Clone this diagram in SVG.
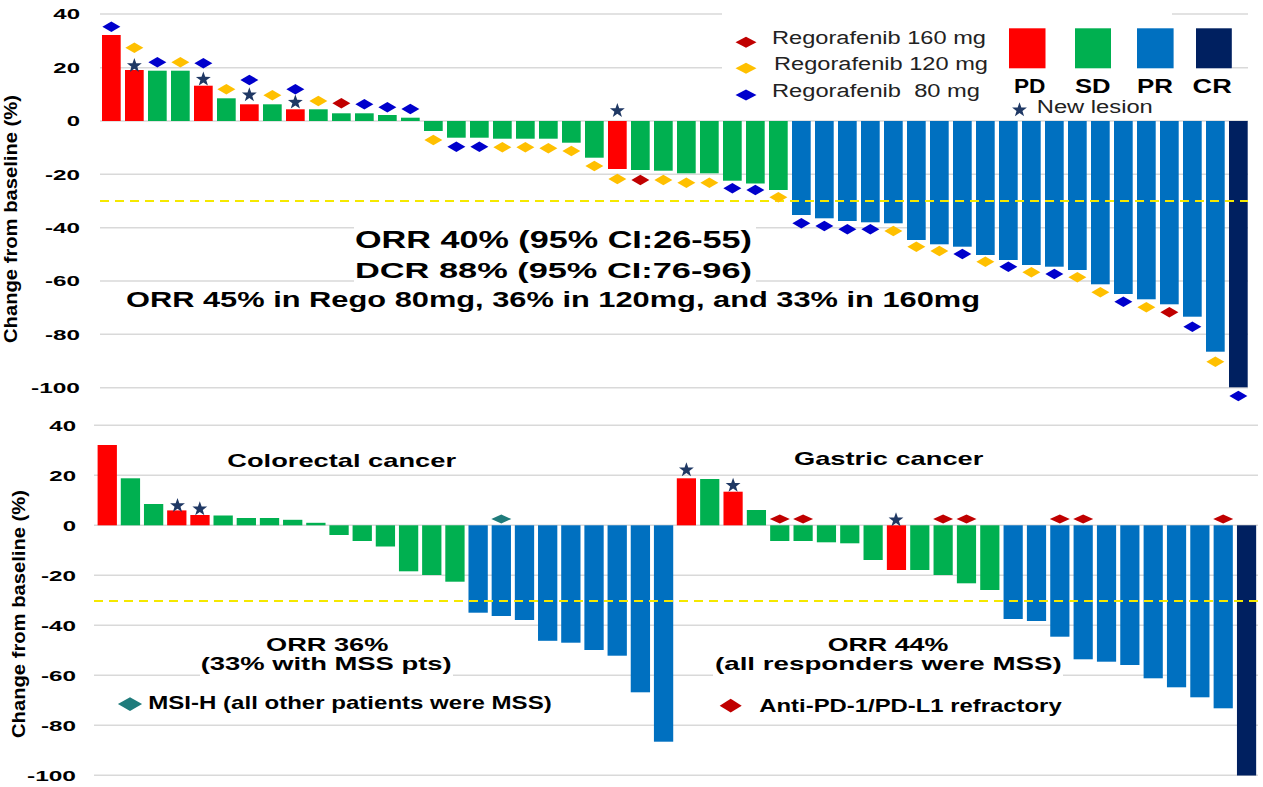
<svg xmlns="http://www.w3.org/2000/svg" xmlns:xlink="http://www.w3.org/1999/xlink" width="1263" height="787" viewBox="0 0 1263 787">
<style>
.gl{stroke:#D9D9D9;stroke-width:1.5;fill:none}
.dash{stroke:#F5E800;stroke-width:2.2;stroke-dasharray:9 6;fill:none}
.pd{fill:#FF0000}.sd{fill:#00B050}.pr{fill:#0070C0}.cr{fill:#002060}
.d160{fill:#C00000}.d120{fill:#FFC000}.d80{fill:#0000CC}.msi{fill:#1F7B7B}
.star{fill:#1F3864}
text{font-family:"Liberation Sans",Arial,sans-serif;fill:#000}
.b{font-weight:bold}
.ax{font-size:15px;font-weight:bold}
.lg{font-size:18px;fill:#222}
</style>
<defs>
<path id="dm" d="M-9,0 L0,-5.3 L9,0 L0,5.3Z"/>
<path id="ds" d="M-10,0 L0,-4.5 L10,0 L0,4.5Z"/>
<path id="dl" d="M-10.5,0 L0,-5.5 L10.5,0 L0,5.5Z"/>
<path id="st" d="M0,-7.8 L1.85,-2.55 L7.42,-2.41 L2.97,0.97 L4.58,6.31 L0,3.12 L-4.58,6.31 L-2.97,0.97 L-7.42,-2.41 L-1.85,-2.55Z"/>
</defs>
<rect width="1263" height="787" fill="#fff"/>

<g id="top-grid">
<line class="gl" x1="100" y1="14" x2="1248" y2="14"/>
<line class="gl" x1="100" y1="67.7" x2="1248" y2="67.7"/>
<line class="gl" x1="100" y1="121" x2="1248" y2="121"/>
<line class="gl" x1="100" y1="174.3" x2="1248" y2="174.3"/>
<line class="gl" x1="100" y1="227.7" x2="1248" y2="227.7"/>
<line class="gl" x1="100" y1="281" x2="1248" y2="281"/>
<line class="gl" x1="100" y1="334.3" x2="1248" y2="334.3"/>
<line class="gl" x1="100" y1="387.7" x2="1248" y2="387.7"/>
</g>
<g id="top-axis">
<text class="ax" x="53.3" y="19.3" textLength="26.7" lengthAdjust="spacingAndGlyphs">40</text>
<text class="ax" x="53.3" y="73" textLength="26.7" lengthAdjust="spacingAndGlyphs">20</text>
<text class="ax" x="66.7" y="126.3" textLength="13.3" lengthAdjust="spacingAndGlyphs">0</text>
<text class="ax" x="45" y="179.6" textLength="35" lengthAdjust="spacingAndGlyphs">-20</text>
<text class="ax" x="45" y="233" textLength="35" lengthAdjust="spacingAndGlyphs">-40</text>
<text class="ax" x="45" y="286.3" textLength="35" lengthAdjust="spacingAndGlyphs">-60</text>
<text class="ax" x="45" y="339.6" textLength="35" lengthAdjust="spacingAndGlyphs">-80</text>
<text class="ax" x="31" y="393" textLength="49" lengthAdjust="spacingAndGlyphs">-100</text>
<text class="b" font-size="18" transform="translate(17,219) rotate(-90)" text-anchor="middle" textLength="248" lengthAdjust="spacingAndGlyphs">Change from baseline (%)</text>
</g>

<g id="top-bars">
<rect class="pd" x="102" y="35" width="18.7" height="86"/>
<rect class="pd" x="125" y="70" width="18.7" height="51"/>
<rect class="sd" x="148" y="70.7" width="18.7" height="50.3"/>
<rect class="sd" x="171" y="70.7" width="18.7" height="50.3"/>
<rect class="pd" x="194" y="85.7" width="18.7" height="35.3"/>
<rect class="sd" x="217" y="98.3" width="18.7" height="22.7"/>
<rect class="pd" x="240" y="104.3" width="18.7" height="16.7"/>
<rect class="sd" x="263" y="104.3" width="18.7" height="16.7"/>
<rect class="pd" x="286" y="109.3" width="18.7" height="11.7"/>
<rect class="sd" x="309" y="109.3" width="18.7" height="11.7"/>
<rect class="sd" x="332" y="113.3" width="18.7" height="7.7"/>
<rect class="sd" x="355" y="113.3" width="18.7" height="7.7"/>
<rect class="sd" x="378" y="115" width="18.7" height="6"/>
<rect class="sd" x="401" y="117.7" width="18.7" height="3.3"/>
<rect class="sd" x="424" y="121" width="18.7" height="10"/>
<rect class="sd" x="447" y="121" width="18.7" height="16.7"/>
<rect class="sd" x="470" y="121" width="18.7" height="16.7"/>
<rect class="sd" x="493" y="121" width="18.7" height="17.7"/>
<rect class="sd" x="516" y="121" width="18.7" height="17.7"/>
<rect class="sd" x="539" y="121" width="18.7" height="17.7"/>
<rect class="sd" x="562" y="121" width="18.7" height="21.7"/>
<rect class="sd" x="585" y="121" width="18.7" height="36.7"/>
<rect class="pd" x="608" y="121" width="18.7" height="48"/>
<rect class="sd" x="631" y="121" width="18.7" height="49"/>
<rect class="sd" x="654" y="121" width="18.7" height="49.7"/>
<rect class="sd" x="677" y="121" width="18.7" height="52.3"/>
<rect class="sd" x="700" y="121" width="18.7" height="52.3"/>
<rect class="sd" x="723" y="121" width="18.7" height="59.7"/>
<rect class="sd" x="746" y="121" width="18.7" height="62.5"/>
<rect class="sd" x="769" y="121" width="18.7" height="69"/>
<rect class="pr" x="792" y="121" width="18.7" height="94"/>
<rect class="pr" x="815" y="121" width="18.7" height="97.3"/>
<rect class="pr" x="838" y="121" width="18.7" height="100"/>
<rect class="pr" x="861" y="121" width="18.7" height="101.3"/>
<rect class="pr" x="884" y="121" width="18.7" height="102.3"/>
<rect class="pr" x="907" y="121" width="18.7" height="119"/>
<rect class="pr" x="930" y="121" width="18.7" height="123.3"/>
<rect class="pr" x="953" y="121" width="18.7" height="125.7"/>
<rect class="pr" x="976" y="121" width="18.7" height="134"/>
<rect class="pr" x="999" y="121" width="18.7" height="139"/>
<rect class="pr" x="1022" y="121" width="18.7" height="144"/>
<rect class="pr" x="1045" y="121" width="18.7" height="145.7"/>
<rect class="pr" x="1068" y="121" width="18.7" height="149"/>
<rect class="pr" x="1091" y="121" width="18.7" height="163.3"/>
<rect class="pr" x="1114" y="121" width="18.7" height="173"/>
<rect class="pr" x="1137" y="121" width="18.7" height="178.3"/>
<rect class="pr" x="1160" y="121" width="18.7" height="183.3"/>
<rect class="pr" x="1183" y="121" width="18.7" height="195.7"/>
<rect class="pr" x="1206" y="121" width="18.7" height="230.7"/>
<rect class="cr" x="1229" y="121" width="18.7" height="266.3"/>
</g>
<line id="top-threshold" class="dash" x1="100" y1="201" x2="1248" y2="201"/>

<g id="top-dose-markers">
<use href="#dm" class="d80" x="111.35" y="26.7"/>
<use href="#dm" class="d120" x="134.35" y="47.7"/>
<use href="#dm" class="d80" x="157.35" y="62.3"/>
<use href="#dm" class="d120" x="180.35" y="62.3"/>
<use href="#dm" class="d80" x="203.35" y="63.3"/>
<use href="#dm" class="d120" x="226.35" y="89.3"/>
<use href="#dm" class="d80" x="249.35" y="80"/>
<use href="#dm" class="d120" x="272.35" y="95.3"/>
<use href="#dm" class="d80" x="295.35" y="89.3"/>
<use href="#dm" class="d120" x="318.35" y="101"/>
<use href="#dm" class="d160" x="341.35" y="103.3"/>
<use href="#dm" class="d80" x="364.35" y="104.3"/>
<use href="#dm" class="d80" x="387.35" y="107.3"/>
<use href="#dm" class="d80" x="410.35" y="109"/>
<use href="#dm" class="d120" x="433.35" y="140"/>
<use href="#dm" class="d80" x="456.35" y="146.7"/>
<use href="#dm" class="d80" x="479.35" y="146.7"/>
<use href="#dm" class="d120" x="502.35" y="147.3"/>
<use href="#dm" class="d120" x="525.35" y="147.3"/>
<use href="#dm" class="d120" x="548.35" y="148.3"/>
<use href="#dm" class="d120" x="571.35" y="151"/>
<use href="#dm" class="d120" x="594.35" y="166"/>
<use href="#dm" class="d120" x="617.35" y="179"/>
<use href="#dm" class="d160" x="640.35" y="180"/>
<use href="#dm" class="d120" x="663.35" y="180"/>
<use href="#dm" class="d120" x="686.35" y="182.7"/>
<use href="#dm" class="d120" x="709.35" y="182.7"/>
<use href="#dm" class="d80" x="732.35" y="188.3"/>
<use href="#dm" class="d80" x="755.35" y="190"/>
<use href="#dm" class="d120" x="778.35" y="197.3"/>
<use href="#dm" class="d80" x="801.35" y="223.3"/>
<use href="#dm" class="d80" x="824.35" y="226"/>
<use href="#dm" class="d80" x="847.35" y="229.3"/>
<use href="#dm" class="d80" x="870.35" y="229.3"/>
<use href="#dm" class="d120" x="893.35" y="231"/>
<use href="#dm" class="d120" x="916.35" y="246.7"/>
<use href="#dm" class="d120" x="939.35" y="251"/>
<use href="#dm" class="d80" x="962.35" y="254"/>
<use href="#dm" class="d120" x="985.35" y="261.7"/>
<use href="#dm" class="d80" x="1008.35" y="266.7"/>
<use href="#dm" class="d120" x="1031.35" y="272.3"/>
<use href="#dm" class="d80" x="1054.35" y="274"/>
<use href="#dm" class="d120" x="1077.35" y="277.3"/>
<use href="#dm" class="d120" x="1100.35" y="292.3"/>
<use href="#dm" class="d80" x="1123.35" y="301.7"/>
<use href="#dm" class="d120" x="1146.35" y="307.3"/>
<use href="#dm" class="d160" x="1169.35" y="312.3"/>
<use href="#dm" class="d80" x="1192.35" y="326.7"/>
<use href="#dm" class="d120" x="1215.35" y="361.7"/>
<use href="#dm" class="d80" x="1238.35" y="396"/>
</g>
<g id="top-new-lesion">
<use href="#st" class="star" x="134.35" y="65.7"/>
<use href="#st" class="star" x="203.35" y="79.3"/>
<use href="#st" class="star" x="249.35" y="95"/>
<use href="#st" class="star" x="295.35" y="102.3"/>
<use href="#st" class="star" x="617.35" y="110.7"/>
</g>

<g id="top-summary">
<rect x="354" y="222" width="402" height="62" fill="#fff"/>
<text class="b" font-size="23" x="355" y="248.3" textLength="397" lengthAdjust="spacingAndGlyphs">ORR 40% (95% CI:26-55)</text>
<text class="b" font-size="22" x="355" y="277.5" textLength="397" lengthAdjust="spacingAndGlyphs">DCR 88% (95% CI:76-96)</text>
<text class="b" font-size="22" x="126" y="307.3" textLength="854" lengthAdjust="spacingAndGlyphs">ORR 45% in Rego 80mg, 36% in 120mg, and 33% in 160mg</text>
</g>

<g id="legend">
<rect x="722" y="6" width="450" height="14" fill="#fff"/>
<rect x="722" y="18" width="510" height="101" fill="#fff"/>
<use href="#dl" class="d160" x="746" y="42.3"/>
<use href="#dl" class="d120" x="746" y="68.3"/>
<use href="#dl" class="d80" x="746" y="95"/>
<text class="lg" x="772" y="43.5" textLength="214" lengthAdjust="spacingAndGlyphs">Regorafenib 160 mg</text>
<text class="lg" x="774" y="70" textLength="214" lengthAdjust="spacingAndGlyphs">Regorafenib 120 mg</text>
<text class="lg" x="772" y="96.5" textLength="208" lengthAdjust="spacingAndGlyphs" xml:space="preserve">Regorafenib  80 mg</text>
<rect class="pd" x="1009" y="28.3" width="36.5" height="40"/>
<rect class="sd" x="1075" y="28.3" width="36" height="40"/>
<rect class="pr" x="1137" y="28.3" width="36.6" height="40"/>
<rect class="cr" x="1196" y="28.3" width="35.8" height="40"/>
<text class="b" font-size="20" x="1014" y="92.7" textLength="31.5" lengthAdjust="spacingAndGlyphs">PD</text>
<text class="b" font-size="20" x="1075" y="92.7" textLength="35.6" lengthAdjust="spacingAndGlyphs">SD</text>
<text class="b" font-size="20" x="1137" y="92.7" textLength="36" lengthAdjust="spacingAndGlyphs">PR</text>
<text class="b" font-size="20" x="1192.6" y="92.7" textLength="39.2" lengthAdjust="spacingAndGlyphs">CR</text>
<use href="#st" class="star" x="1019.5" y="110"/>
<text class="lg" x="1036.8" y="113.3" textLength="116" lengthAdjust="spacingAndGlyphs">New lesion</text>
</g>

<g id="bottom-grid">
<line class="gl" x1="94" y1="425.3" x2="1258" y2="425.3"/>
<line class="gl" x1="94" y1="475.3" x2="1258" y2="475.3"/>
<line class="gl" x1="94" y1="525.3" x2="1258" y2="525.3"/>
<line class="gl" x1="94" y1="575.3" x2="1258" y2="575.3"/>
<line class="gl" x1="94" y1="625.3" x2="1258" y2="625.3"/>
<line class="gl" x1="94" y1="675.3" x2="1258" y2="675.3"/>
<line class="gl" x1="94" y1="725.3" x2="1258" y2="725.3"/>
<line class="gl" x1="94" y1="775.3" x2="1258" y2="775.3"/>
</g>
<g id="bottom-text-backgrounds">
<rect x="200" y="630" width="253" height="47" fill="#fff"/>
<rect x="713" y="630" width="350" height="47" fill="#fff"/>
</g>
<g id="bottom-axis">
<text class="ax" x="49.3" y="430.6" textLength="26.7" lengthAdjust="spacingAndGlyphs">40</text>
<text class="ax" x="49.3" y="480.6" textLength="26.7" lengthAdjust="spacingAndGlyphs">20</text>
<text class="ax" x="62.7" y="530.6" textLength="13.3" lengthAdjust="spacingAndGlyphs">0</text>
<text class="ax" x="41" y="580.6" textLength="35" lengthAdjust="spacingAndGlyphs">-20</text>
<text class="ax" x="41" y="630.6" textLength="35" lengthAdjust="spacingAndGlyphs">-40</text>
<text class="ax" x="41" y="680.6" textLength="35" lengthAdjust="spacingAndGlyphs">-60</text>
<text class="ax" x="41" y="730.6" textLength="35" lengthAdjust="spacingAndGlyphs">-80</text>
<text class="ax" x="27" y="780.6" textLength="49" lengthAdjust="spacingAndGlyphs">-100</text>
<text class="b" font-size="18" transform="translate(25,614) rotate(-90)" text-anchor="middle" textLength="248" lengthAdjust="spacingAndGlyphs">Change from baseline (%)</text>
</g>

<g id="colorectal-bars">
<rect class="pd" x="97.6" y="445" width="19.3" height="80.3"/>
<rect class="sd" x="120.78" y="478.3" width="19.3" height="47"/>
<rect class="sd" x="143.96" y="504" width="19.3" height="21.3"/>
<rect class="pd" x="167.14" y="510.4" width="19.3" height="14.9"/>
<rect class="pd" x="190.32" y="515" width="19.3" height="10.3"/>
<rect class="sd" x="213.5" y="515.5" width="19.3" height="9.8"/>
<rect class="sd" x="236.68" y="518" width="19.3" height="7.3"/>
<rect class="sd" x="259.86" y="518" width="19.3" height="7.3"/>
<rect class="sd" x="283.04" y="519.8" width="19.3" height="5.5"/>
<rect class="sd" x="306.22" y="522.8" width="19.3" height="2.5"/>
<rect class="sd" x="329.4" y="525.3" width="19.3" height="9.7"/>
<rect class="sd" x="352.58" y="525.3" width="19.3" height="15.7"/>
<rect class="sd" x="375.76" y="525.3" width="19.3" height="21.2"/>
<rect class="sd" x="398.94" y="525.3" width="19.3" height="46"/>
<rect class="sd" x="422.12" y="525.3" width="19.3" height="49.7"/>
<rect class="sd" x="445.3" y="525.3" width="19.3" height="56.4"/>
<rect class="pr" x="468.48" y="525.3" width="19.3" height="87.4"/>
<rect class="pr" x="491.66" y="525.3" width="19.3" height="90.7"/>
<rect class="pr" x="514.84" y="525.3" width="19.3" height="94.7"/>
<rect class="pr" x="538.02" y="525.3" width="19.3" height="115.5"/>
<rect class="pr" x="561.2" y="525.3" width="19.3" height="117.4"/>
<rect class="pr" x="584.38" y="525.3" width="19.3" height="124.7"/>
<rect class="pr" x="607.56" y="525.3" width="19.3" height="130.4"/>
<rect class="pr" x="630.74" y="525.3" width="19.3" height="167"/>
<rect class="pr" x="653.92" y="525.3" width="19.3" height="216.4"/>
</g>
<g id="gastric-bars">
<rect class="pd" x="676.8" y="478.3" width="19.2" height="47"/>
<rect class="sd" x="700.14" y="479" width="19.2" height="46.3"/>
<rect class="pd" x="723.48" y="491.7" width="19.2" height="33.6"/>
<rect class="sd" x="746.82" y="510" width="19.2" height="15.3"/>
<rect class="sd" x="770.16" y="525.3" width="19.2" height="15.7"/>
<rect class="sd" x="793.5" y="525.3" width="19.2" height="15.7"/>
<rect class="sd" x="816.84" y="525.3" width="19.2" height="17"/>
<rect class="sd" x="840.18" y="525.3" width="19.2" height="18"/>
<rect class="sd" x="863.52" y="525.3" width="19.2" height="34.7"/>
<rect class="pd" x="886.86" y="525.3" width="19.2" height="44.7"/>
<rect class="sd" x="910.2" y="525.3" width="19.2" height="44.7"/>
<rect class="sd" x="933.54" y="525.3" width="19.2" height="49.7"/>
<rect class="sd" x="956.88" y="525.3" width="19.2" height="58"/>
<rect class="sd" x="980.22" y="525.3" width="19.2" height="64.7"/>
<rect class="pr" x="1003.56" y="525.3" width="19.2" height="93.7"/>
<rect class="pr" x="1026.9" y="525.3" width="19.2" height="95.7"/>
<rect class="pr" x="1050.24" y="525.3" width="19.2" height="111.4"/>
<rect class="pr" x="1073.58" y="525.3" width="19.2" height="134"/>
<rect class="pr" x="1096.92" y="525.3" width="19.2" height="136.4"/>
<rect class="pr" x="1120.26" y="525.3" width="19.2" height="139.7"/>
<rect class="pr" x="1143.6" y="525.3" width="19.2" height="153"/>
<rect class="pr" x="1166.94" y="525.3" width="19.2" height="162"/>
<rect class="pr" x="1190.28" y="525.3" width="19.2" height="172"/>
<rect class="pr" x="1213.62" y="525.3" width="19.2" height="183"/>
<rect class="cr" x="1236.96" y="525.3" width="19.2" height="250.2"/>
</g>
<line id="bottom-threshold" class="dash" x1="94" y1="601" x2="1258" y2="601"/>

<g id="bottom-markers">
<use href="#st" class="star" x="177.5" y="505.7"/>
<use href="#st" class="star" x="199.8" y="509"/>
<use href="#st" class="star" x="686.4" y="470"/>
<use href="#st" class="star" x="733.1" y="485.5"/>
<use href="#st" class="star" x="896" y="520"/>
<use href="#ds" class="msi" x="501.3" y="519"/>
<use href="#ds" class="d160" x="779.8" y="519"/>
<use href="#ds" class="d160" x="803.1" y="519"/>
<use href="#ds" class="d160" x="943.1" y="519"/>
<use href="#ds" class="d160" x="966.5" y="519"/>
<use href="#ds" class="d160" x="1059.8" y="519"/>
<use href="#ds" class="d160" x="1083.2" y="519"/>
<use href="#ds" class="d160" x="1223.2" y="519"/>
</g>

<g id="colorectal-text">
<text class="b" font-size="19" x="227.3" y="466.7" textLength="228.7" lengthAdjust="spacingAndGlyphs">Colorectal cancer</text>
<text class="b" font-size="19" x="266" y="650.7" textLength="122.3" lengthAdjust="spacingAndGlyphs">ORR 36%</text>
<text class="b" font-size="19" x="200.7" y="670" textLength="251" lengthAdjust="spacingAndGlyphs">(33% with MSS pts)</text>
<use href="#dl" class="msi" transform="translate(130,704) scale(1.15,1.25)"/>
<text class="b" font-size="19" x="148.3" y="709.3" textLength="403.4" lengthAdjust="spacingAndGlyphs">MSI-H (all other patients were MSS)</text>
</g>
<g id="gastric-text">
<text class="b" font-size="19" x="794" y="465" textLength="189.3" lengthAdjust="spacingAndGlyphs">Gastric cancer</text>
<text class="b" font-size="19" x="827.7" y="650.7" textLength="120.6" lengthAdjust="spacingAndGlyphs">ORR 44%</text>
<text class="b" font-size="19" x="715" y="670" textLength="346.7" lengthAdjust="spacingAndGlyphs">(all responders were MSS)</text>
<use href="#dl" class="d160" transform="translate(730.7,705.7) scale(1.05,1.25)"/>
<text class="b" font-size="19" x="759.3" y="711.7" textLength="302.4" lengthAdjust="spacingAndGlyphs">Anti-PD-1/PD-L1 refractory</text>
</g>
</svg>
